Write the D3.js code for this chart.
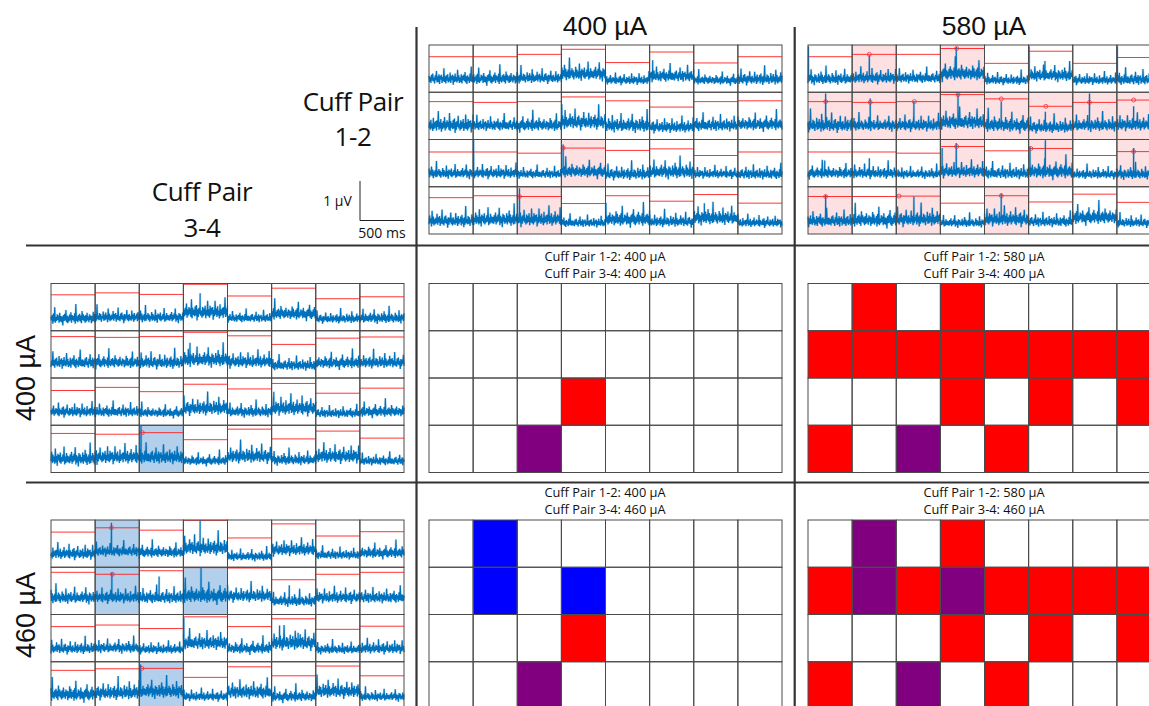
<!DOCTYPE html>
<html>
<head>
<meta charset="utf-8">
<script src="https://cdn.jsdelivr.net/npm/d3@7"></script>
<style>
  html, body { margin: 0; background: #fff; overflow: hidden; }
  svg { display: block; }
  .myriad { font-family: "Open Sans", sans-serif; fill: #111; text-anchor: middle; }
  .arial { font-family: "Liberation Sans", sans-serif; fill: #111; text-anchor: middle; }
</style>
</head>
<body>
<div id="chart"></div>
<script>
// Threshold (red line) per cell, microvolts above the cell floor, row by row.
const thrTop400 = [
  [.91,.91,.97,1.10,.76,1.03,.75,.91],
  [.97,.95,.97,1.09,.99,.83,.97,.99],
  [.89,.89,.86,.99,.93,.97,.80,.89],
  [.93,.98,.96,.78,.98,.84,1.01,.79]];
const thrTop580 = [
  [.91,.97,.97,1.12,.74,1.05,.74,.89],
  [.97,.95,.97,1.15,1.04,.85,.95,1.01],
  [.89,.89,.86,1.03,.92,.98,.80,.90],
  [.96,.96,.97,.79,.98,.82,1.02,.81]];
const thrLeft400 = [
  [.92,.97,.93,1.19,.89,1.09,.82,.87],
  [1.06,1.04,1.06,1.17,1.08,.86,1.02,1.05],
  [.89,.97,.86,1.05,.93,1.07,.82,.95],
  [1.00,.98,1.02,.84,1.11,.86,1.06,.88]];
const thrLeft460 = [
  [.90,1.01,.95,1.20,.75,1.11,.80,.91],
  [1.08,1.03,1.12,1.20,1.19,.89,1.03,1.08],
  [.90,.94,.85,1.15,.90,1.10,.83,.91],
  [.99,1.03,1.04,.81,1.08,.85,1.10,.85]];

// Trace baseline per cell, microvolts above the cell floor.
const baseTop400 = [
  [.35,.35,.37,.48,.31,.42,.31,.34],
  [.37,.37,.37,.45,.37,.32,.37,.39],
  [.35,.35,.33,.39,.33,.39,.33,.33],
  [.34,.38,.38,.29,.38,.32,.42,.29]];
const baseTop580 = [
  [.35,.37,.37,.48,.31,.44,.31,.33],
  [.37,.37,.37,.45,.37,.32,.37,.38],
  [.35,.35,.33,.39,.35,.39,.32,.33],
  [.34,.36,.38,.29,.38,.32,.43,.29]];
const baseLeft400 = [
  [.32,.35,.35,.48,.33,.44,.31,.33],
  [.40,.40,.40,.48,.42,.33,.39,.40],
  [.35,.35,.32,.44,.35,.44,.31,.35],
  [.36,.40,.40,.30,.42,.33,.42,.30]];
const baseLeft460 = [
  [.35,.41,.38,.50,.28,.45,.32,.37],
  [.44,.44,.44,.48,.48,.35,.44,.44],
  [.34,.36,.32,.49,.34,.49,.32,.34],
  [.38,.42,.46,.32,.44,.32,.46,.32]];

// Noise size per cell, one table per cuff pair.
const ampCuff12 = [
  [1.4,1.4,1.3,1.7,1.1,1.5,1.1,1.4],
  [1.7,1.4,1.5,1.8,1.7,1.4,1.5,1.5],
  [1.3,1.3,1.1,1.5,1.4,1.7,1.1,1.3],
  [1.5,1.7,1.7,1.1,1.7,1.3,1.7,1.1]];
const ampCuff34 = [
  [1.4,1.3,1.3,1.8,1.1,1.5,1.1,1.3],
  [1.5,1.4,1.5,1.8,1.5,1.3,1.4,1.4],
  [1.3,1.3,1.1,1.7,1.3,1.8,1.1,1.3],
  [1.7,1.7,1.7,1.1,1.7,1.3,1.7,1.1]];

// Background noise samples, hundredths of a microvolt.
const noiseA = [5,-6,3,-8,7,-4,9,-5,2,-9,6,-3,14,-7,4,-6,8,-10,5,-2,7,-8,3,-5,19,-6,4,-9,6,-4,8,-7,2,-5,11,-8,5,-3,7,-11,4,-6,9,-5,3,-7,16,-4,6,-8,2,-6,8,-9,5,-3,7,-5,12,-7,4,-10,6,-4,3,-8,9,-5,22,-6,5,-7];
const noiseB = [3,-7,6,-4,10,-8,4,-5,7,-3,17,-9,5,-6,3,-12,8,-4,6,-7,2,-5,9,-8,5,-4,13,-6,7,-10,3,-5,6,-8,24,-7,4,-3,8,-6,5,-9,2,-4,10,-7,6,-5,3,-8,15,-6,4,-11,7,-3,5,-6,9,-8,2,-5,6,-4,18,-9,3,-7,8,-5,4,-6];
const noiseC = [7,-3,5,-9,4,-6,12,-5,8,-7,3,-4,6,-10,9,-6,20,-8,2,-5,7,-3,5,-8,10,-6,4,-7,3,-13,6,-5,8,-4,15,-7,5,-9,3,-6,7,-4,11,-8,6,-3,4,-6,9,-10,26,-5,3,-7,6,-4,8,-6,5,-9,13,-3,7,-5,4,-8,6,-6,10,-4,3,-7];
const noiseD = [4,-8,9,-5,6,-3,7,-11,3,-6,16,-4,5,-7,8,-5,2,-9,11,-6,4,-4,6,-8,7,-3,21,-7,5,-5,9,-10,3,-6,6,-4,12,-8,4,-5,7,-3,5,-7,18,-9,6,-4,3,-6,8,-5,10,-12,4,-7,6,-3,14,-5,2,-8,7,-6,5,-4,9,-9,3,-5,16,-6];
const noiseE = [6,-5,2,-7,13,-4,5,-9,8,-6,3,-3,7,-8,10,-5,4,-11,6,-7,25,-4,3,-6,8,-5,6,-9,2,-3,11,-7,5,-6,9,-4,4,-10,17,-5,7,-8,3,-6,5,-4,12,-7,6,-3,8,-9,4,-5,19,-6,2,-8,7,-4,9,-5,3,-12,6,-7,5,-3,14,-6,4,-8];
const noiseShapes = [noiseA, noiseB, noiseC, noiseD, noiseE];

// Spikes: [row, col, time ms, peak microvolts].
const spikesTop400 = [[0,5,35,.82],[2,1,5,1.2],[2,3,20,1.08],[3,2,25,1.17],[3,6,120,.79],[1,3,5,.9],[3,4,5,.8]];
const spikesTop580 = [
  [0,0,5,1.18],[0,1,195,.95],[0,3,180,1.16],[0,5,5,1.18],[0,5,185,.8],[0,7,5,1.18],
  [1,0,200,1.18],[1,1,205,1.05],[1,2,200,.97],[1,3,200,1.18],[1,4,190,.97],[1,5,190,.71],[1,6,190,1.18],[1,7,190,.85],
  [2,0,190,.67],[2,1,195,.73],[2,3,20,.99],[2,3,180,1.12],[2,5,15,1.03],[2,5,190,1.19],[2,7,190,.99],
  [3,0,200,1],[3,2,200,.96],[3,4,190,1.04]];
const spikesLeft400 = [[0,3,190,.96],[1,3,75,.9],[2,5,25,.86],[3,2,20,1.2]];
const spikesLeft460 = [
  [0,1,185,1.14],[0,3,190,1.2],[1,1,190,1.08],[1,2,225,.97],[1,3,200,1.2],[1,5,200,.75],
  [2,3,5,1.13],[2,5,90,.93],[2,5,300,.74],[3,2,15,1.14]];

// Threshold crossings marked with a circle and shaded: [row, col, time ms].
const hitsTop400 = [[2,3,20],[3,2,25]];
const hitsTop580 = [
  [0,1,195],[0,3,185],
  [1,0,200],[1,1,205],[1,2,205],[1,3,200],[1,4,190],[1,5,195],[1,6,190],[1,7,190],
  [2,3,185],[2,5,25],[2,7,190],
  [3,0,200],[3,2,30],[3,4,190]];
const hitsLeft400 = [[3,2,35]];
const hitsLeft460 = [[0,1,185],[1,1,195],[1,3,200,0],[3,2,30]];

const currentLabels = ["400 µA", "580 µA", "460 µA"];

const W = 1149, H = 706;
const NROW = 4, NCOL = 8;
const PANEL_W = 353, PANEL_H = 189;
const CELL_UV = 1.21;   // microvolts one cell tall
const CELL_MS = 500;    // milliseconds one cell wide

const svg = d3.select("#chart").append("svg").attr("width", W).attr("height", H);

function bands(x0, y0) {
  return {
    xb: d3.scaleBand().domain(d3.range(NCOL)).range([x0, x0 + PANEL_W]),
    yb: d3.scaleBand().domain(d3.range(NROW)).range([y0, y0 + PANEL_H])
  };
}

function drawGrid(g, xb, yb) {
  d3.range(NROW).forEach(r => d3.range(NCOL).forEach(c => {
    g.append("rect")
      .attr("x", xb(c)).attr("y", yb(r))
      .attr("width", xb.bandwidth()).attr("height", yb.bandwidth())
      .attr("fill", "none").attr("stroke", "#4a4a4a").attr("stroke-width", 1);
  }));
}

function drawTraces(x0, y0, cfg) {
  const { xb, yb } = bands(x0, y0);
  const g = svg.append("g");
  const isHit = (r, c) => cfg.hits.some(h => h[0] === r && h[1] === c);

  d3.range(NROW).forEach(r => d3.range(NCOL).forEach(c => {
    const x = d3.scaleLinear().domain([0, CELL_MS]).range([xb(c), xb(c) + xb.bandwidth()]);
    const y = d3.scaleLinear().domain([0, CELL_UV]).range([yb(r) + yb.bandwidth(), yb(r)]);
    const base = cfg.base[r][c], amp = cfg.amp[r][c];

    if (isHit(r, c)) {
      g.append("rect")
        .attr("x", xb(c)).attr("y", yb(r))
        .attr("width", xb.bandwidth()).attr("height", yb.bandwidth())
        .attr("fill", cfg.shade);
    }
    g.append("line")
      .attr("x1", xb(c)).attr("x2", xb(c) + xb.bandwidth())
      .attr("y1", y(cfg.thr[r][c])).attr("y2", y(cfg.thr[r][c]))
      .attr("stroke", "#ff2020").attr("stroke-width", 1).attr("stroke-opacity", .9);

    // noise samples, starting at a different place in a different list per cell
    const shape = noiseShapes[(r * 3 + c * 2 + cfg.seat) % noiseShapes.length];
    const start = (r * 11 + c * 7 + cfg.seat * 5) % shape.length;
    const dt = CELL_MS / (shape.length - 1);
    const pts = shape.map((_, i) => ({
      t: i * dt,
      v: base + amp * shape[(i + start) % shape.length] / 100
    }));
    cfg.spikes.filter(s => s[0] === r && s[1] === c).forEach(s => {
      pts.push({ t: s[2] - 2, v: base + .05 }, { t: s[2], v: s[3] }, { t: s[2] + 2, v: base - .04 });
    });
    pts.sort((a, b) => a.t - b.t);

    const line = d3.line().x(d => x(d.t)).y(d => y(d.v));
    // pale halo first, then the trace itself
    g.append("path")
      .attr("d", line(pts))
      .attr("fill", "none").attr("stroke", "#0072bd").attr("stroke-opacity", .2)
      .attr("stroke-width", 2.4).attr("stroke-linejoin", "bevel");
    g.append("path")
      .attr("d", line(pts))
      .attr("fill", "none").attr("stroke", "#0072bd")
      .attr("stroke-width", 1.15).attr("stroke-linejoin", "bevel");

    cfg.hits.filter(h => h[0] === r && h[1] === c && h[3] !== 0).forEach(h => {
      g.append("circle")
        .attr("cx", x(h[2])).attr("cy", y(cfg.thr[r][c])).attr("r", 2)
        .attr("fill", "none").attr("stroke", "#f0303c").attr("stroke-width", .8);
    });
  }));
  drawGrid(g, xb, yb);
}

// A cell is red when cuff pair 1-2 crossed, blue for 3-4 and purple for both.
function drawHeat(x0, y0, hits12, hits34) {
  const { xb, yb } = bands(x0, y0);
  const g = svg.append("g");
  const has = (list, r, c) => list.some(h => h[0] === r && h[1] === c);
  d3.range(NROW).forEach(r => d3.range(NCOL).forEach(c => {
    const a = has(hits12, r, c), b = has(hits34, r, c);
    if (!a && !b) return;
    g.append("rect")
      .attr("x", xb(c)).attr("y", yb(r))
      .attr("width", xb.bandwidth()).attr("height", yb.bandwidth())
      .attr("fill", a && b ? "#800080" : a ? "#ff0000" : "#0000ff");
  }));
  drawGrid(g, xb, yb);
}

const X_LEFT = 51, X_MID = 429, X_RIGHT = 808;
const Y_TOP = 45, Y_MID = 283.5, Y_BOT = 520;
const PINK = "#fde0e1", SKY = "#b2cfeb";

drawTraces(X_MID, Y_TOP, { thr: thrTop400, base: baseTop400, amp: ampCuff12, spikes: spikesTop400, hits: hitsTop400, shade: PINK, seat: 0 });
drawTraces(X_RIGHT, Y_TOP, { thr: thrTop580, base: baseTop580, amp: ampCuff12, spikes: spikesTop580, hits: hitsTop580, shade: PINK, seat: 1 });
drawTraces(X_LEFT, Y_MID, { thr: thrLeft400, base: baseLeft400, amp: ampCuff34, spikes: spikesLeft400, hits: hitsLeft400, shade: SKY, seat: 2 });
drawTraces(X_LEFT, Y_BOT, { thr: thrLeft460, base: baseLeft460, amp: ampCuff34, spikes: spikesLeft460, hits: hitsLeft460, shade: SKY, seat: 3 });

drawHeat(X_MID, Y_MID, hitsTop400, hitsLeft400);
drawHeat(X_RIGHT, Y_MID, hitsTop580, hitsLeft400);
drawHeat(X_MID, Y_BOT, hitsTop400, hitsLeft460);
drawHeat(X_RIGHT, Y_BOT, hitsTop580, hitsLeft460);

// Dividers between the matrix rows and columns
const rule = (x1, y1, x2, y2) => svg.append("line")
  .attr("x1", x1).attr("y1", y1).attr("x2", x2).attr("y2", y2)
  .attr("stroke", "#333").attr("stroke-width", 2.2);
rule(416.5, 27, 416.5, H);
rule(794.7, 27, 794.7, H);
rule(26, 245.5, W, 245.5);
rule(26, 482.5, W, 482.5);

const text = (cls, x, y, size, str) => svg.append("text")
  .attr("class", cls).attr("x", x).attr("y", y).style("font-size", size + "px").text(str);

text("arial", 605, 35, 26.5, currentLabels[0]);
text("arial", 984, 35, 26.5, currentLabels[1]);
[[378, currentLabels[0]], [615, currentLabels[2]]].forEach(([cy, str]) => {
  svg.append("text").attr("class", "arial")
    .attr("transform", `translate(35,${cy}) rotate(-90)`)
    .style("font-size", "27px").text(str);
});

const big = [[353, 111, "Cuff Pair"], [353, 146, "1-2"], [202, 201, "Cuff Pair"], [202, 237, "3-4"]];
big.forEach(([x, y, str]) => text("myriad", x, y, 26, str).style("letter-spacing", "-0.35px"));

// Scale bar: 1 µV tall, 500 ms wide
const barUv = d3.scaleLinear().domain([0, 1]).range([220.5, 181]);
const barMs = d3.scaleLinear().domain([0, CELL_MS]).range([360, 404]);
svg.append("path")
  .attr("d", `M${barMs(0)},${barUv(1)}V${barUv(0)}H${barMs(500)}`)
  .attr("fill", "none").attr("stroke", "#222").attr("stroke-width", 1);
text("myriad", 337.5, 206, 14, "1 µV");
text("myriad", 382, 238, 14, "500 ms");

const heatTitles = [
  [605, 261, 278, currentLabels[0], currentLabels[0]],
  [984, 261, 278, currentLabels[1], currentLabels[0]],
  [605, 497, 514, currentLabels[0], currentLabels[2]],
  [984, 497, 514, currentLabels[1], currentLabels[2]]
];
heatTitles.forEach(([x, y1, y2, a, b]) => {
  text("myriad", x, y1, 12.8, `Cuff Pair 1-2: ${a}`);
  text("myriad", x, y2, 12.8, `Cuff Pair 3-4: ${b}`);
});
</script>
</body>
</html>
